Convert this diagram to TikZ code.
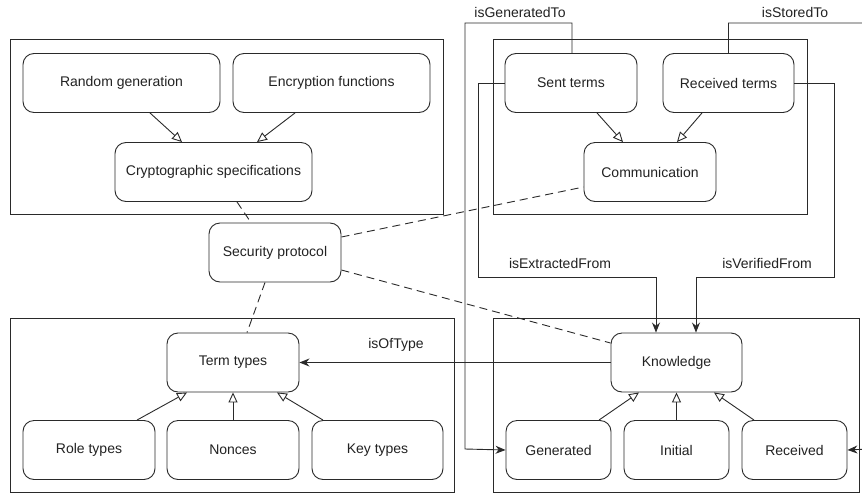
\documentclass[tikz,border=0pt]{standalone}
\usepackage{fontspec}
\setmainfont{Liberation Sans}
\usetikzlibrary{arrows.meta}
\definecolor{ln}{HTML}{2A2A2A}
\definecolor{tx}{HTML}{222222}
\tikzset{
  box/.style={draw=ln, line width=0.9pt, rounded corners=11pt, minimum width=#1, minimum height=59pt, inner sep=0pt, text=tx, font=\fontsize{14}{16}\selectfont},
  box/.default=132pt,
  container/.style={draw=ln, line width=0.9pt},
  gen/.style={draw=ln, line width=0.9pt, -{Triangle[open, length=10pt, width=9pt]}},
  assoc/.style={draw=ln, line width=0.9pt, -{Stealth[length=10pt, width=8pt]}},
  dep/.style={draw=ln, line width=0.9pt, dash pattern=on 8pt off 5pt},
  lbl/.style={text=tx, font=\fontsize{14}{16}\selectfont, inner sep=0pt},
}
\begin{document}
\begin{tikzpicture}[x=1pt, y=-1pt]
\useasboundingbox (0,0) rectangle (862,493);
\clip (0,0) rectangle (862,493);
\fill[white] (0,0) rectangle (862,493);
% containers
\draw[container] (10,39) rectangle (443,214);
\draw[container] (493,39) rectangle (807,214);
\draw[container] (10,318) rectangle (454,492);
\draw[container] (493,318) rectangle (859,492);
% nodes
\node[box=197pt] (rg) at (121.5,83) {Random generation};
\node[box=197pt] (ef) at (331.5,83) {Encryption functions};
\node[box=197pt] (cs) at (213.5,172) {Cryptographic specifications};
\node[box] (sent) at (571,83) {Sent terms};
\node[box=131pt] (recv) at (728.5,83) {Received terms};
\node[box] (comm) at (650,172) {Communication};
\node[box] (sp) at (275,252.5) {Security protocol};
\node[box] (tt) at (233,362.5) {Term types};
\node[box] (role) at (89,450) {Role types};
\node[box] (nonces) at (233,450) {Nonces};
\node[box=131pt] (key) at (377.5,450) {Key types};
\node[box=131pt] (know) at (676.5,362.5) {Knowledge};
\node[box=105pt] (gent) at (558.5,450) {Generated};
\node[box=105pt] (init) at (676.5,450) {Initial};
\node[box=105pt] (recd) at (794.5,450) {Received};
% generalizations
\draw[gen] ([xshift=28.5pt]rg.south) -- ([xshift=-31.5pt]cs.north);
\draw[gen] ([xshift=-36.5pt]ef.south) -- ([xshift=43.5pt]cs.north);
\draw[gen] ([xshift=26pt]sent.south) -- ([xshift=-27pt]comm.north);
\draw[gen] ([xshift=-26.5pt]recv.south) -- ([xshift=27pt]comm.north);
\draw[gen] ([xshift=48pt]role.north) -- ([xshift=-46pt]tt.south);
\draw[gen] (nonces.north) -- (tt.south);
\draw[gen] ([xshift=-54.5pt]key.north) -- ([xshift=44pt]tt.south);
\draw[gen] ([xshift=40.5pt]gent.north) -- ([xshift=-37.5pt]know.south);
\draw[gen] (init.north) -- (know.south);
\draw[gen] ([xshift=-40.5pt]recd.north) -- ([xshift=37.5pt]know.south);
% dependencies
\draw[dep] ([xshift=23.5pt]cs.south) -- ([xshift=-24pt]sp.north);
\draw[dep] ([xshift=-10pt]sp.south) -- ([xshift=14pt]tt.north);
\draw[dep] ([yshift=15.5pt]sp.east) -- ([yshift=-15pt]comm.west);
\draw[dep] ([yshift=-17.5pt]sp.east) -- ([yshift=19.5pt]know.west);
% associations
\draw[assoc] (know.west) -- (tt.east);
\node[lbl] (lOf) at (396,345) {isOfType};
\draw[assoc] (sent.west) -- (478,83) -- (478,277) -- (656,277) -- ([xshift=-20.5pt]know.north);
\node[lbl] (lEx) at (560,263) {isExtractedFrom};
\draw[assoc] (recv.east) -- (834,83) -- (834,277) -- (696,277) -- ([xshift=19.5pt]know.north);
\node[lbl] (lVe) at (767,263) {isVerifiedFrom};
\draw[assoc] ([xshift=1pt]sent.north) -- (572,23) -- (465,23) -- (465,449) -- (gent.west);
\node[lbl] (lGe) at (520,12) {isGeneratedTo};
\draw[assoc] (recv.north) -- (728.5,23) -- (868,23) -- (868,449) -- (recd.east);
\node[lbl] (lSt) at (795,12) {isStoredTo};
\end{tikzpicture}
\end{document}
